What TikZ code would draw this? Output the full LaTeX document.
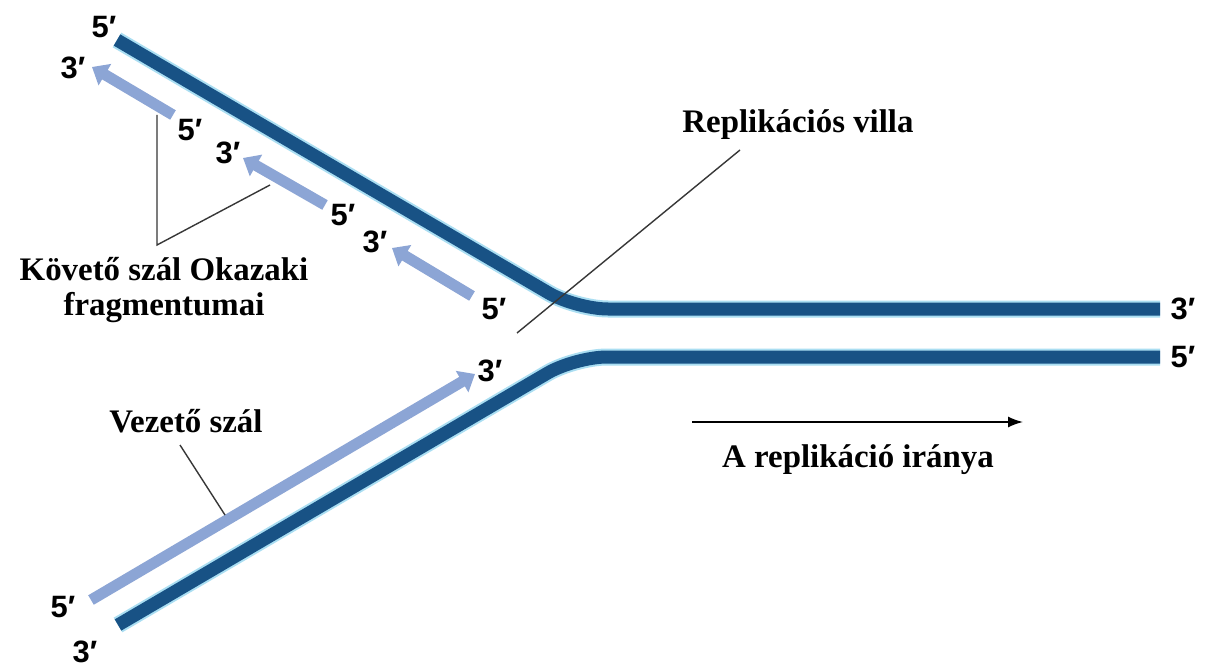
\documentclass[tikz,border=0pt]{standalone}
\usepackage{fontspec}
\setmainfont{Liberation Serif}
\newfontfamily\primefont{Liberation Sans}
\usetikzlibrary{arrows.meta}
\definecolor{strand}{RGB}{24,82,133}
\definecolor{halo}{RGB}{170,222,242}
\definecolor{newstrand}{RGB}{140,165,213}
\definecolor{leader}{RGB}{55,55,55}
\tikzset{
  endlbl/.style={font=\primefont\bfseries\fontsize{31}{31}\selectfont, inner sep=0pt},
  lbl/.style={font=\bfseries\fontsize{33}{35}\selectfont, inner sep=0pt, align=center},
  dna/.style={line width=13bp, draw=strand, rounded corners=32bp},
  dnahalo/.style={line width=17bp, draw=halo, rounded corners=32bp},
  frag/.style={line width=11bp, draw=newstrand, -{Triangle[length=15bp,width=24bp]}},
  pointer/.style={draw=leader, line width=1.4bp},
  dirarrow/.style={draw=black, line width=1.6bp, -{Latex[length=15bp,width=11bp]}}
}
\begin{document}
\begin{tikzpicture}[x=1bp,y=-1bp]
\useasboundingbox (0,0) rectangle (1217,670);
\fill[white] (0,0) rectangle (1217,670);
% parental strands
\coordinate (t0) at (117,40);
\coordinate (tc) at (576,309);
\coordinate (t1) at (1160,309);
\coordinate (b0) at (118,625);
\coordinate (bc) at (575,357);
\coordinate (b1) at (1160,357);
\draw[dnahalo] (t0) -- (tc) -- (t1);
\draw[dnahalo] (b0) -- (bc) -- (b1);
\draw[dna] (t0) -- (tc) -- (t1);
\draw[dna] (b0) -- (bc) -- (b1);
% Okazaki fragments
\coordinate (f1s) at (173,115); \coordinate (f1e) at (92,67);
\coordinate (f2s) at (325,205); \coordinate (f2e) at (243,158);
\coordinate (f3s) at (472,296); \coordinate (f3e) at (392,248);
\draw[frag] (f1s) -- (f1e);
\draw[frag] (f2s) -- (f2e);
\draw[frag] (f3s) -- (f3e);
% leading strand
\coordinate (ls) at (91,600); \coordinate (le) at (475,374);
\draw[frag] (ls) -- (le);
% end labels
\node[endlbl] (t5) at (104,27) {5′};
\node[endlbl] (o3a) at (73,68) {3′};
\node[endlbl] (o5a) at (190,130) {5′};
\node[endlbl] (o3b) at (228,153) {3′};
\node[endlbl] (o5b) at (343,215) {5′};
\node[endlbl] (o3c) at (375,242) {3′};
\node[endlbl] (o5c) at (494,309) {5′};
\node[endlbl] (l3) at (490,371) {3′};
\node[endlbl] (l5) at (63,607) {5′};
\node[endlbl] (b3) at (85,652) {3′};
\node[endlbl] (r3) at (1183,309) {3′};
\node[endlbl] (r5) at (1183,357) {5′};
% text labels
\node[lbl] (villa) at (798,125) {Replikációs villa};
\node[lbl] (okazaki) at (164,290) {Követő szál Okazaki\\fragmentumai};
\node[lbl] (vezeto) at (186,421) {Vezető szál};
\node[lbl] (irany) at (858,460) {A replikáció iránya};
% pointers
\coordinate (v1) at (740,150); \coordinate (v2) at (517,333);
\draw[pointer] (v1) -- (v2);
\coordinate (k1) at (157,115); \coordinate (k2) at (157,245); \coordinate (k3) at (270,185);
\draw[pointer] (k1) -- (k2) -- (k3);
\coordinate (z1) at (180,445); \coordinate (z2) at (225,515);
\draw[pointer] (z1) -- (z2);
\coordinate (d1) at (692,422); \coordinate (d2) at (1023,422);
\draw[dirarrow] (d1) -- (d2);
\end{tikzpicture}
\end{document}
